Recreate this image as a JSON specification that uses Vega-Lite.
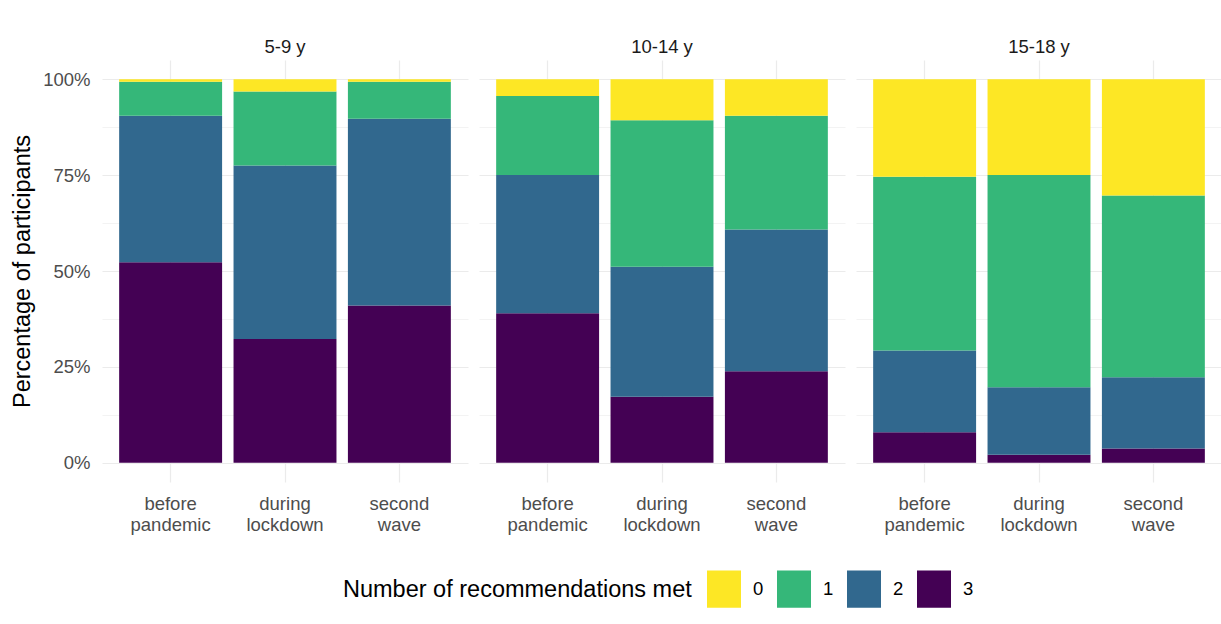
{
  "$schema": "https://vega.github.io/schema/vega-lite/v6.json",
  "padding": {"left": 10, "top": 37, "right": 0, "bottom": 0},
  "background": "white",
  "config": {
    "font": "Liberation Sans",
    "view": {"stroke": null}
  },
  "data": {
    "values": [
      {"age": "5-9 y", "period": "before pandemic", "rec": 3, "pct": 52.3},
      {"age": "5-9 y", "period": "before pandemic", "rec": 2, "pct": 38.2},
      {"age": "5-9 y", "period": "before pandemic", "rec": 1, "pct": 8.8},
      {"age": "5-9 y", "period": "before pandemic", "rec": 0, "pct": 0.7},
      {"age": "5-9 y", "period": "during lockdown", "rec": 3, "pct": 32.3},
      {"age": "5-9 y", "period": "during lockdown", "rec": 2, "pct": 45.2},
      {"age": "5-9 y", "period": "during lockdown", "rec": 1, "pct": 19.3},
      {"age": "5-9 y", "period": "during lockdown", "rec": 0, "pct": 3.2},
      {"age": "5-9 y", "period": "second wave", "rec": 3, "pct": 41.0},
      {"age": "5-9 y", "period": "second wave", "rec": 2, "pct": 48.7},
      {"age": "5-9 y", "period": "second wave", "rec": 1, "pct": 9.6},
      {"age": "5-9 y", "period": "second wave", "rec": 0, "pct": 0.7},
      {"age": "10-14 y", "period": "before pandemic", "rec": 3, "pct": 39.0},
      {"age": "10-14 y", "period": "before pandemic", "rec": 2, "pct": 36.0},
      {"age": "10-14 y", "period": "before pandemic", "rec": 1, "pct": 20.6},
      {"age": "10-14 y", "period": "before pandemic", "rec": 0, "pct": 4.4},
      {"age": "10-14 y", "period": "during lockdown", "rec": 3, "pct": 17.2},
      {"age": "10-14 y", "period": "during lockdown", "rec": 2, "pct": 33.9},
      {"age": "10-14 y", "period": "during lockdown", "rec": 1, "pct": 38.2},
      {"age": "10-14 y", "period": "during lockdown", "rec": 0, "pct": 10.7},
      {"age": "10-14 y", "period": "second wave", "rec": 3, "pct": 23.9},
      {"age": "10-14 y", "period": "second wave", "rec": 2, "pct": 36.9},
      {"age": "10-14 y", "period": "second wave", "rec": 1, "pct": 29.7},
      {"age": "10-14 y", "period": "second wave", "rec": 0, "pct": 9.5},
      {"age": "15-18 y", "period": "before pandemic", "rec": 3, "pct": 8.0},
      {"age": "15-18 y", "period": "before pandemic", "rec": 2, "pct": 21.3},
      {"age": "15-18 y", "period": "before pandemic", "rec": 1, "pct": 45.3},
      {"age": "15-18 y", "period": "before pandemic", "rec": 0, "pct": 25.4},
      {"age": "15-18 y", "period": "during lockdown", "rec": 3, "pct": 2.1},
      {"age": "15-18 y", "period": "during lockdown", "rec": 2, "pct": 17.6},
      {"age": "15-18 y", "period": "during lockdown", "rec": 1, "pct": 55.3},
      {"age": "15-18 y", "period": "during lockdown", "rec": 0, "pct": 25.0},
      {"age": "15-18 y", "period": "second wave", "rec": 3, "pct": 3.7},
      {"age": "15-18 y", "period": "second wave", "rec": 2, "pct": 18.6},
      {"age": "15-18 y", "period": "second wave", "rec": 1, "pct": 47.4},
      {"age": "15-18 y", "period": "second wave", "rec": 0, "pct": 30.3}
    ]
  },
  "facet": {
    "column": {
      "field": "age",
      "type": "nominal",
      "sort": ["5-9 y", "10-14 y", "15-18 y"],
      "header": {
        "title": null,
        "labelFontSize": 18.5,
        "labelColor": "#1a1a1a",
        "labelPadding": -11,
        "labelBaseline": "alphabetic"
      }
    }
  },
  "spacing": 11,
  "spec": {
    "width": 366,
    "height": 422,
    "mark": {"type": "bar"},
    "encoding": {
      "x": {
        "field": "period",
        "type": "nominal",
        "sort": ["before pandemic", "during lockdown", "second wave"],
        "scale": {"paddingInner": 0.1, "paddingOuter": 0.15},
        "axis": {
          "title": null,
          "labelAngle": 0,
          "labelExpr": "split(datum.label, ' ')",
          "labelFontSize": 18.5,
          "labelColor": "#4d4d4d",
          "labelLineHeight": 21,
          "labelBaseline": "top",
          "labelPadding": 12,
          "domain": false,
          "ticks": false,
          "tickSize": 0,
          "grid": true,
          "gridColor": "#ebebeb",
          "gridWidth": 1.2,
          "bandPosition": 0.5
        }
      },
      "y": {
        "field": "pct",
        "type": "quantitative",
        "stack": "zero",
        "scale": {"domain": [-5, 105], "nice": false, "zero": false},
        "axis": {
          "title": "Percentage of participants",
          "titleFontSize": 23.5,
          "titleFontWeight": "normal",
          "titleColor": "#000000",
          "titlePadding": 8,
          "values": [0, 12.5, 25, 37.5, 50, 62.5, 75, 87.5, 100],
          "labelExpr": "datum.value % 25 === 0 ? datum.value + '%' : ''",
          "labelFontSize": 18.5,
          "labelColor": "#4d4d4d",
          "labelPadding": 12,
          "domain": false,
          "ticks": false,
          "tickSize": 0,
          "grid": true,
          "gridColor": "#ebebeb",
          "gridWidth": {"condition": {"test": "datum.value % 25 === 0", "value": 1.2}, "value": 0.6}
        }
      },
      "color": {
        "field": "rec",
        "type": "nominal",
        "scale": {"domain": [0, 1, 2, 3], "range": ["#FDE725", "#35B779", "#31688E", "#440154"]},
        "legend": {
          "orient": "none",
          "legendX": 241,
          "legendY": 512,
          "direction": "horizontal",
          "title": "Number of recommendations met",
          "titleLimit": 1000,
          "titleOrient": "left",
          "titleFontSize": 23.5,
          "titleFontWeight": "normal",
          "titleColor": "#000000",
          "titlePadding": 15,
          "symbolType": "M-1,-1.1H1V1.1H-1Z",
          "symbolSize": 1156,
          "symbolStrokeWidth": 0,
          "symbolOpacity": 1,
          "labelFontSize": 18.5,
          "labelColor": "#000000",
          "labelOffset": 12,
          "columnPadding": 13
        }
      },
      "order": {"field": "rec", "sort": "descending"}
    }
  }
}
